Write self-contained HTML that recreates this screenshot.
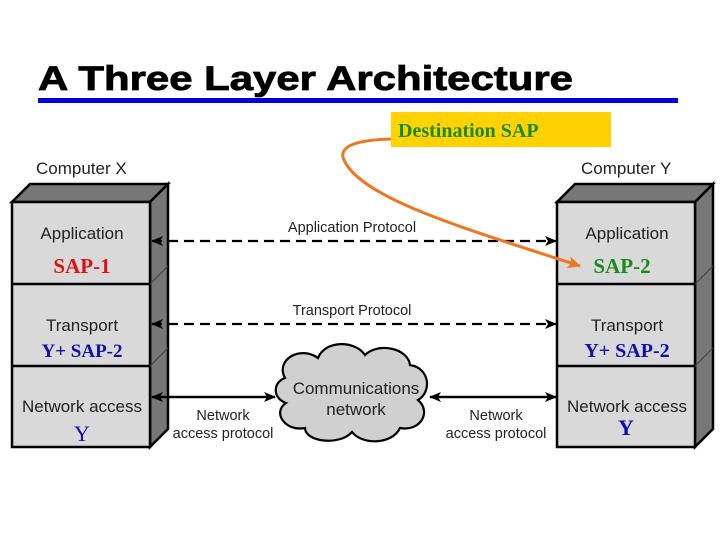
<!DOCTYPE html>
<html><head><style>
body{margin:0;width:720px;height:540px;background:#fff;overflow:hidden}
</style></head><body>
<svg width="720" height="540" xmlns="http://www.w3.org/2000/svg" font-family="Liberation Sans, Arial, sans-serif">
<defs>
<marker id="ah" markerWidth="12" markerHeight="10" refX="11" refY="5" orient="auto" markerUnits="userSpaceOnUse"><path d="M0,0 L12,5 L0,10 L3,5z" fill="#000"/></marker>
<marker id="oh" markerWidth="14" markerHeight="12" refX="12" refY="6" orient="auto" markerUnits="userSpaceOnUse"><path d="M0,0 L13,6 L0,12 L3,6z" fill="#ee7722"/></marker>
</defs>
<text x="38" y="90" font-size="34" font-weight="bold" fill="#000" textLength="535" lengthAdjust="spacingAndGlyphs" stroke="#000" stroke-width="0.8">A Three Layer Architecture</text>
<rect x="38" y="98" width="640" height="5" fill="#0000dd"/>
<rect x="391" y="112" width="220" height="35" fill="#ffd200"/>
<text x="398" y="137" font-family="Liberation Serif, serif" font-size="20" font-weight="bold" fill="#1a8a1a">Destination SAP</text>
<text x="36" y="174" font-size="17" fill="#222">Computer X</text>
<text x="581" y="174" font-size="17" fill="#222">Computer Y</text>
<g stroke="#000" stroke-width="2.5">
<polygon points="12,202 30,184 168,184 150,202" fill="#777"/>
<polygon points="150,202 168,184 168,429 150,447" fill="#777"/>
<rect x="12" y="202" width="138" height="245" fill="#d9d9d9"/>
<line x1="12" y1="284" x2="150" y2="284"/><line x1="12" y1="366" x2="150" y2="366"/>
<polygon points="557,202 575,184 713,184 695,202" fill="#777"/>
<polygon points="695,202 713,184 713,429 695,447" fill="#777"/>
<rect x="557" y="202" width="138" height="245" fill="#d9d9d9"/>
<line x1="557" y1="284" x2="695" y2="284"/><line x1="557" y1="366" x2="695" y2="366"/>
</g>
<g stroke="#444" stroke-width="1.2" fill="none">
<polyline points="150,284 168,266"/><polyline points="150,366 168,348"/>
<polyline points="695,284 713,266"/><polyline points="695,366 713,348"/>
</g>
<g font-size="17" fill="#222" text-anchor="middle">
<text x="82" y="239">Application</text><text x="82" y="331">Transport</text><text x="82" y="412">Network access</text>
<text x="627" y="239">Application</text><text x="627" y="331">Transport</text><text x="627" y="412">Network access</text>
</g>
<g font-family="Liberation Serif, serif" font-weight="bold" text-anchor="middle">
<text x="82" y="273" font-size="21" fill="#dd1111">SAP-1</text>
<text x="82" y="357" font-size="19" fill="#1111aa">Y+ SAP-2</text>
<text x="82" y="441" font-size="22" font-weight="normal" fill="#1111aa">Y</text>
<text x="622" y="273" font-size="21" fill="#1a8a1a">SAP-2</text>
<text x="627" y="357" font-size="20" fill="#1111aa">Y+ SAP-2</text>
<text x="626" y="435" font-size="22" fill="#1111aa">Y</text>
</g>
<g stroke="#000" stroke-width="2.2">
<line x1="152" y1="241" x2="556" y2="241" stroke-dasharray="10,6" marker-end="url(#ah)"/>
<line x1="556" y1="241" x2="152" y2="241" stroke-opacity="0" marker-end="url(#ah)"/>
<line x1="152" y1="324" x2="556" y2="324" stroke-dasharray="10,6" marker-end="url(#ah)"/>
<line x1="556" y1="324" x2="152" y2="324" stroke-opacity="0" marker-end="url(#ah)"/>
<line x1="152" y1="397" x2="275" y2="397" marker-end="url(#ah)"/>
<line x1="275" y1="397" x2="152" y2="397" marker-end="url(#ah)"/>
<line x1="430" y1="397" x2="556" y2="397" marker-end="url(#ah)"/>
<line x1="556" y1="397" x2="430" y2="397" marker-end="url(#ah)"/>
</g>
<g font-size="14.5" fill="#222" text-anchor="middle">
<text x="352" y="232">Application Protocol</text>
<text x="352" y="315">Transport Protocol</text>
<text x="223" y="420">Network</text><text x="223" y="438">access protocol</text>
<text x="496" y="420">Network</text><text x="496" y="438">access protocol</text>
</g>
<path d="M285,378 C275,360 300,345 318,358 C325,340 355,340 365,355 C378,342 408,348 410,365 C430,368 432,392 418,400 C432,412 420,432 400,428 C392,445 362,445 352,432 C340,446 305,442 305,428 C285,432 272,412 286,403 C272,398 273,382 285,378 Z" fill="#d0d0d0" stroke="#000" stroke-width="2.2"/>
<text x="356" y="394" font-size="17" fill="#222" text-anchor="middle">Communications</text>
<text x="356" y="415" font-size="17" fill="#222" text-anchor="middle">network</text>
<path d="M391,139 C360,140 335,145 345,162 C365,200 470,230 580,266" fill="none" stroke="#ee7722" stroke-width="3" marker-end="url(#oh)"/>
</svg>
</body></html>
